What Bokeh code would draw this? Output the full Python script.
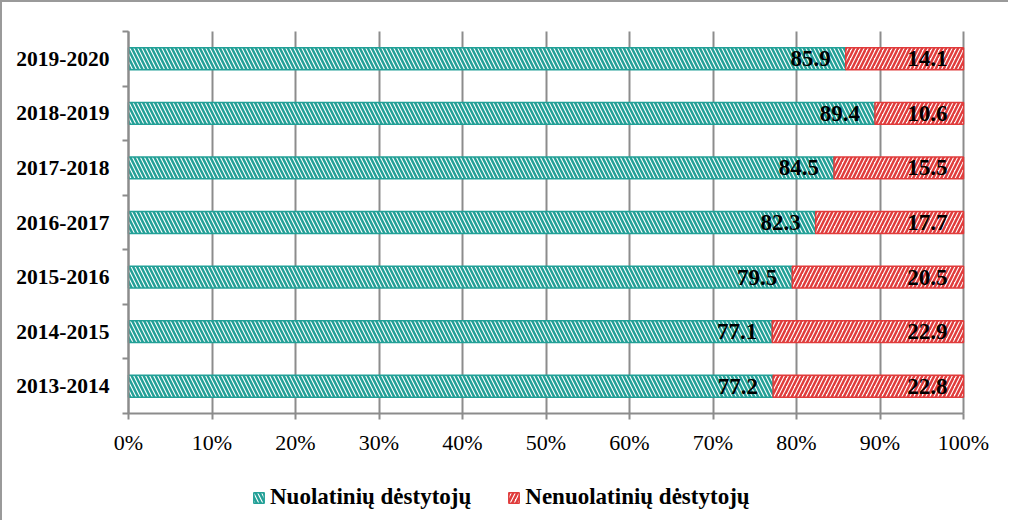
from bokeh.plotting import figure
from bokeh.models import (ColumnDataSource, FixedTicker, PrintfTickFormatter,
                          Legend, LegendItem, Range1d, Grid, BoxAnnotation)
from bokeh.core.properties import value
from bokeh.embed import file_html
from bokeh.resources import INLINE

years = ["2013-2014", "2014-2015", "2015-2016", "2016-2017",
         "2017-2018", "2018-2019", "2019-2020"]
nuolatiniu = [77.2, 77.1, 79.5, 82.3, 84.5, 89.4, 85.9]
nenuolatiniu = [22.8, 22.9, 20.5, 17.7, 15.5, 10.6, 14.1]
series_names = ["Nuolatinių dėstytojų", "Nenuolatinių dėstytojų"]
x_ticks = [0, 10, 20, 30, 40, 50, 60, 70, 80, 90, 100]

TEAL = "#23a097"
RED = "#e03c3c"
GRID = "#8c8c8c"
FONT = "Liberation Serif"

n = len(years)
ypos = [i + 0.5 for i in range(n)]
ends2 = [a + b for a, b in zip(nuolatiniu, nenuolatiniu)]

src = ColumnDataSource(dict(
    y=ypos, e1=nuolatiniu, s2=nuolatiniu, e2=ends2,
    l1=["%.1f" % v for v in nuolatiniu], l2=["%.1f" % v for v in nenuolatiniu],
    zero=[0] * n,
))

# The frame covers the whole canvas; axes are pinned at x=0 / y=0 so that
# tick labels and the legend are not clipped.
W, H = 1008, 520
PLOT_L, PLOT_R, PLOT_T, PLOT_B = 126, 961, 29, 411   # pixel edges of bar area
xs = (PLOT_R - PLOT_L) / 100.0
ys = (PLOT_B - PLOT_T) / float(n)
p = figure(width=W, height=H, output_backend="svg", toolbar_location=None,
           x_range=Range1d(-PLOT_L / xs, 100 + (W - PLOT_R) / xs),
           y_range=Range1d(-(H - PLOT_B) / ys, n + PLOT_T / ys),
           min_border=0, min_border_left=0, min_border_right=0,
           min_border_top=0, min_border_bottom=0)
p.styles = {"border-left": "2px solid #9a9a9a", "border-top": "2px solid #9a9a9a"}
p.outline_line_color = None
p.background_fill_color = "white"
p.border_fill_color = "white"

# grid (limited to the bar area)
p.xgrid.ticker = FixedTicker(ticks=x_ticks)
p.xgrid.grid_line_color = GRID
p.xgrid.grid_line_width = 2
p.ygrid.grid_line_color = None
if "cross_bounds" in Grid.properties():
    p.xgrid.cross_bounds = (0, n)
else:
    p.add_layout(BoxAnnotation(top=0, fill_color="white", fill_alpha=1,
                               line_color=None, level="underlay"))
    p.add_layout(BoxAnnotation(bottom=n, fill_color="white", fill_alpha=1,
                               line_color=None, level="underlay"))

r1 = p.hbar(y="y", left="zero", right="e1", height=0.4, source=src,
            fill_color="white", line_color=TEAL, line_width=1.5,
            hatch_pattern="\\", hatch_color=TEAL, hatch_scale=8, hatch_weight=2.5)
r2 = p.hbar(y="y", left="s2", right="e2", height=0.4, source=src,
            fill_color="white", line_color=RED, line_width=1.5,
            hatch_pattern="/", hatch_color=RED, hatch_scale=8, hatch_weight=2.5)

p.text(x="e1", y="y", text="l1", source=src, text_align="right",
       text_baseline="middle", x_offset=-15, text_font=value(FONT),
       text_font_style="bold", text_font_size="23px", text_color="black")
p.text(x="e2", y="y", text="l2", source=src, text_align="right",
       text_baseline="middle", x_offset=-16, text_font=value(FONT),
       text_font_style="bold", text_font_size="23px", text_color="black")

# x axis
p.xaxis.fixed_location = 0
p.xaxis.bounds = (0, 100)
p.xaxis.ticker = FixedTicker(ticks=x_ticks)
p.xaxis.formatter = PrintfTickFormatter(format="%d%%")
p.xaxis.axis_line_color = GRID
p.xaxis.axis_line_width = 2
p.xaxis.major_tick_line_color = GRID
p.xaxis.major_tick_line_width = 2
p.xaxis.major_tick_out = 6
p.xaxis.major_tick_in = 0
p.xaxis.minor_tick_line_color = None
p.xaxis.major_label_text_font = FONT
p.xaxis.major_label_text_font_size = "22px"
p.xaxis.major_label_text_color = "black"
p.xaxis.major_label_standoff = 10

# y axis
p.yaxis.fixed_location = 0
p.yaxis.bounds = (0, n)
p.yaxis.ticker = FixedTicker(ticks=ypos, minor_ticks=list(range(n + 1)))
p.yaxis.major_label_overrides = {y: lab for y, lab in zip(ypos, years)}
p.yaxis.axis_line_color = GRID
p.yaxis.axis_line_width = 2
p.yaxis.major_tick_line_color = None
p.yaxis.major_tick_out = 0
p.yaxis.major_tick_in = 0
p.yaxis.minor_tick_line_color = GRID
p.yaxis.minor_tick_line_width = 2
p.yaxis.minor_tick_out = 6
p.yaxis.minor_tick_in = 0
p.yaxis.major_label_text_font = FONT
p.yaxis.major_label_text_font_style = "bold"
p.yaxis.major_label_text_font_size = "21.5px"
p.yaxis.major_label_text_color = "black"
p.yaxis.major_label_standoff = 13

legend = Legend(items=[LegendItem(label=series_names[0], renderers=[r1]),
                       LegendItem(label=series_names[1], renderers=[r2])],
                orientation="horizontal", location=(250, 12),
                label_text_font=FONT, label_text_font_style="bold",
                label_text_font_size="23px", label_text_color="black",
                glyph_width=13, glyph_height=13, spacing=36,
                label_standoff=5, border_line_color=None,
                background_fill_alpha=0, margin=0, padding=4)
p.add_layout(legend, "center")

open("out.html", "w").write(file_html(p, INLINE))
